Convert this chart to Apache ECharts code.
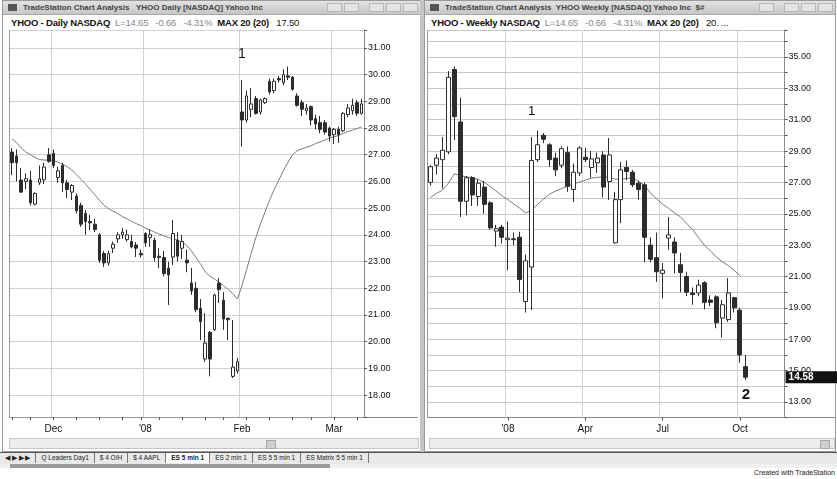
<!DOCTYPE html>
<html>
<head>
<meta charset="utf-8">
<script src="https://cdn.jsdelivr.net/npm/echarts@6/dist/echarts.min.js"></script>
<style>
  html, body { margin: 0; padding: 0; background: #fff; }
  #page { position: relative; width: 837px; height: 479px; overflow: hidden; background: #fff; font-family: 'Liberation Sans', Arial, sans-serif; }
  .win { position: absolute; top: 0; height: 452px; background: #fff; border: 1px solid #9a9a9a; box-sizing: border-box; }
  .tbar { position: absolute; left: 0; right: 0; top: 0; height: 13px; background: linear-gradient(#e2e2e2, #c6c6c6); border-bottom: 1px solid #a8a8a8; font-size: 8px; font-weight: bold; line-height: 13px; color: #444; white-space: nowrap; overflow: hidden; }
  .tbar .ico { display: inline-block; width: 9px; height: 7px; background: #555; margin: 0 6px 0 5px; vertical-align: -1px; }
  .btns { position: absolute; right: 2px; top: 2px; }
  .btns span { display: inline-block; width: 13px; height: 7px; border: 1px solid #b8b8b8; background: #e4e4e4; margin-left: 2px; }
  .hdr { position: absolute; top: 15px; height: 13px; font-size: 9.5px; line-height: 13px; white-space: nowrap; color: #111; letter-spacing: -0.2px; }
  .hdr b { font-weight: bold; }
  .hdr .g { color: #888; }
  .frameL { position: absolute; top: 30px; height: 387px; border-left: 1px solid #9a9a9a; }
  .axisB { position: absolute; top: 417px; height: 0; border-top: 1px solid #8a8a8a; }
  .scroll { position: absolute; top: 437px; height: 11px; background: #ededed; border: 1px solid #c6c6c6; box-sizing: border-box; }
  .thumb { position: absolute; top: 1px; width: 8px; height: 7px; background: #d0d0d0; border: 1px solid #a8a8a8; }
  .sep { position: absolute; left: 420px; top: 0; width: 4px; height: 452px; background: #c4c4c4; }
  .tabs { position: absolute; left: 0; top: 452px; width: 837px; height: 11px; background: #e8e8e8; border-top: 1px solid #555; font-size: 6.5px; line-height: 10px; white-space: nowrap; color: #222; }
  .tabs span { display: inline-block; padding: 0 5px; border-right: 1px solid #777; }
  .tabs span.on { background: #fff; font-weight: bold; }
  .strip { position: absolute; left: 0; top: 464px; width: 837px; height: 4px; background: #f0f0f0; }
  .strip div { position: absolute; left: 10px; top: 0; width: 320px; height: 4px; background: #9a9a9a; }
  .credit { position: absolute; right: 2px; top: 469px; font-size: 7px; color: #222; }
  #chart { position: absolute; left: 0; top: 0; width: 837px; height: 479px; }
</style>
</head>
<body>
<div id="page">
  <div class="win" style="left:2px;width:419px">
    <div class="tbar"><span class="ico"></span>TradeStation Chart Analysis &nbsp; YHOO Daily [NASDAQ] Yahoo Inc
      <div class="btns"><span></span><span></span><span style="margin-left:10px"></span><span></span><span></span></div></div>
    <div class="hdr" style="left:8px"><b>YHOO - Daily NASDAQ</b>&nbsp; <span class="g">L=14.65 &nbsp; -0.66 &nbsp; -4.31%</span>&nbsp; <b>MAX 20 (20)</b> &nbsp; 17.50</div>
    <div class="scroll" style="left:6px;width:410px"><div class="thumb" style="left:256px"></div></div>
  </div>
  <div class="sep"></div>
  <div class="win" style="left:424px;width:412px">
    <div class="tbar"><span class="ico"></span>TradeStation Chart Analysis &nbsp;YHOO Weekly [NASDAQ] Yahoo Inc &nbsp;$#
      <div class="btns"><span></span><span style="margin-left:10px"></span><span></span><span></span></div></div>
    <div class="hdr" style="left:6px"><b>YHOO - Weekly NASDAQ</b>&nbsp; <span class="g">L=14.65 &nbsp; -0.66 &nbsp; -4.31%</span>&nbsp; <b>MAX 20 (20)</b> &nbsp; 20. ...</div>
    <div class="scroll" style="left:4px;width:406px"><div class="thumb" style="left:390px"></div></div>
  </div>
  <div class="frameL" style="left:9px"></div>
  <div class="axisB" style="left:9px;width:409px"></div>
  <div class="frameL" style="left:427px"></div>
  <div class="axisB" style="left:427px;width:408px"></div>
  <div class="tabs"><span>&#9664; &#9654; &#9654; &#9654;</span><span>Q Leaders Day1</span><span>$ 4 OIH</span><span>$ 4 AAPL</span><span class="on">ES 5 min 1</span><span>ES 2 min 1</span><span>ES 5 5 min 1</span><span>ES Matrix 5 5 min 1</span></div>
  <div class="strip"><div></div></div>
  <div class="credit">Created with TradeStation</div>
  <div id="chart"></div>
</div>
<script>
// daily session days, Nov 2007 - Mar 2008
const dailyDays = [
  ['2007-11', [19, 20, 21, 23, 26, 27, 28, 29, 30]],
  ['2007-12', [3, 4, 5, 6, 7, 10, 11, 12, 13, 14, 17, 18, 19, 20, 21, 24, 26, 27, 28, 31]],
  ['2008-01', [2, 3, 4, 7, 8, 9, 10, 11, 14, 15, 16, 17, 18, 22, 23, 24, 25, 28, 29, 30, 31]],
  ['2008-02', [1, 4, 5, 6, 7, 8, 11, 12, 13, 14, 15, 19, 20, 21, 22, 25, 26, 27, 28, 29]],
  ['2008-03', [3, 4, 5, 6, 7, 10, 11]]
]
const dailyTickDates = ['2007-12-03', '2008-01-02', '2008-02-01', '2008-03-03']
const dailyTickLabels = ['Dec', "'08", 'Feb', 'Mar']

// [open, close, low, high]
const dailyCandles = [
  [27.10, 26.70, 26.24, 27.25], [26.95, 26.70, 26.00, 27.20], [26.05, 25.60, 25.57, 26.50], [26.00, 26.10, 25.70, 26.30],
  [26.05, 25.20, 25.10, 26.40], [25.15, 25.55, 25.10, 25.60], [25.95, 26.10, 25.87, 26.60], [26.06, 26.54, 25.90, 26.70],
  [27.00, 26.75, 26.70, 27.25], [27.05, 26.60, 26.50, 27.20], [26.15, 26.40, 25.95, 26.55], [26.60, 25.95, 25.60, 26.70],
  [25.95, 25.70, 25.38, 26.06], [25.60, 25.85, 25.30, 25.90], [25.45, 24.90, 24.80, 25.55], [25.10, 24.40, 24.30, 25.20],
  [24.80, 24.50, 24.00, 24.93], [24.50, 24.45, 24.18, 24.75], [24.40, 24.20, 24.10, 24.60], [24.00, 23.05, 22.95, 24.07],
  [23.30, 22.95, 22.80, 23.40], [22.95, 23.30, 22.85, 23.40], [23.50, 23.65, 23.32, 23.75], [23.85, 24.00, 23.70, 24.10],
  [24.00, 24.10, 23.85, 24.25], [23.82, 24.00, 23.75, 24.20], [23.75, 23.55, 23.50, 24.00], [23.62, 23.50, 23.17, 23.73],
  [23.30, 23.25, 23.15, 23.45], [24.05, 23.70, 23.55, 24.10], [23.90, 24.00, 23.55, 24.20], [23.80, 23.15, 23.00, 23.90],
  [23.20, 23.15, 22.75, 23.50], [23.15, 22.55, 22.45, 23.40], [22.75, 22.50, 21.37, 22.99], [23.17, 24.05, 22.87, 24.56],
  [23.80, 23.20, 23.00, 24.10], [23.50, 23.75, 23.10, 24.00], [23.05, 22.95, 22.60, 23.45], [22.20, 21.90, 21.75, 22.76],
  [22.00, 21.20, 21.10, 22.24], [21.25, 20.75, 20.06, 21.60], [19.35, 19.95, 19.24, 21.07], [20.35, 19.35, 18.70, 20.40],
  [20.45, 21.75, 20.40, 21.80], [22.20, 21.95, 21.45, 22.38], [21.55, 20.85, 20.44, 21.86], [20.88, 20.82, 20.06, 20.90],
  [18.70, 19.05, 18.64, 20.81], [18.90, 19.25, 18.80, 19.40], [28.60, 28.30, 27.30, 29.80], [28.30, 29.20, 28.20, 29.40],
  [28.70, 28.90, 28.40, 29.50], [29.10, 28.55, 28.50, 29.20], [28.60, 29.05, 28.50, 29.10], [28.95, 29.10, 28.90, 29.15],
  [29.75, 29.35, 29.25, 29.85], [29.40, 29.75, 29.30, 29.85], [29.85, 29.80, 29.70, 29.95], [29.70, 30.00, 29.60, 30.20],
  [29.95, 29.90, 29.80, 30.30], [29.90, 29.45, 29.40, 29.95], [29.20, 28.85, 28.80, 29.30], [28.95, 28.70, 28.45, 29.05],
  [28.65, 28.75, 28.50, 28.90], [28.80, 28.30, 28.10, 28.85], [28.35, 28.15, 27.95, 28.50], [28.20, 27.95, 27.80, 28.45],
  [28.20, 27.85, 27.75, 28.30], [28.00, 27.70, 27.50, 28.05], [27.75, 27.95, 27.40, 28.00], [27.95, 27.75, 27.45, 28.05],
  [27.90, 28.55, 27.85, 28.60], [28.50, 28.75, 28.40, 28.90], [28.65, 28.85, 28.50, 29.10], [28.95, 28.55, 28.45, 29.05],
  [28.55, 28.90, 28.50, 29.10]
]
const dailyAvg = [
  27.60, 27.45, 27.25, 27.10, 27.00, 26.90, 26.82, 26.80, 26.80, 26.78, 26.72, 26.65, 26.55, 26.43, 26.25, 26.08,
  25.90, 25.70, 25.50, 25.30, 25.10, 24.98, 24.88, 24.80, 24.68, 24.60, 24.50, 24.42, 24.35, 24.25, 24.18, 24.10,
  24.03, 23.97, 23.90, 23.85, 23.80, 23.72, 23.60, 23.40, 23.15, 22.90, 22.62, 22.45, 22.35, 22.22, 22.10, 21.95,
  21.80, 21.60, 22.10, 22.70, 23.30, 23.90, 24.40, 24.85, 25.30, 25.70, 26.05, 26.40, 26.72, 27.00, 27.15, 27.22,
  27.28, 27.33, 27.42, 27.48, 27.55, 27.62, 27.67, 27.72, 27.80, 27.86, 27.92, 27.98, 28.04
]
const dailyNotes = [['2008-02-01', 30.75, '1']]

// weekly bars, Oct 2007 - Oct 2008, with empty weeks on the right
const weeklyDates = [
  '2007-10-01', '2007-10-08', '2007-10-15', '2007-10-22', '2007-10-29', '2007-11-05', '2007-11-12', '2007-11-19',
  '2007-11-26', '2007-12-03', '2007-12-10', '2007-12-17', '2007-12-24', '2007-12-31', '2008-01-07', '2008-01-14',
  '2008-01-21', '2008-01-28', '2008-02-04', '2008-02-11', '2008-02-18', '2008-02-25', '2008-03-03', '2008-03-10',
  '2008-03-17', '2008-03-24', '2008-03-31', '2008-04-07', '2008-04-14', '2008-04-21', '2008-04-28', '2008-05-05',
  '2008-05-12', '2008-05-19', '2008-05-26', '2008-06-02', '2008-06-09', '2008-06-16', '2008-06-23', '2008-06-30',
  '2008-07-07', '2008-07-14', '2008-07-21', '2008-07-28', '2008-08-04', '2008-08-11', '2008-08-18', '2008-08-25',
  '2008-09-01', '2008-09-08', '2008-09-15', '2008-09-22', '2008-09-29', '2008-10-06', '2008-10-13', '2008-10-20',
  '2008-10-27', '2008-11-03', '2008-11-10', '2008-11-17'
]
const weeklyTickDates = ['2007-12-31', '2008-03-31', '2008-06-30', '2008-09-29']
const weeklyTickLabels = ["'08", 'Apr', 'Jul', 'Oct']

const weeklyCandles = [
  [27.00, 28.00, 26.80, 28.10], [28.10, 28.55, 27.50, 28.80], [28.45, 29.05, 26.60, 29.90], [28.95, 33.70, 28.80, 34.10],
  [34.20, 31.20, 29.70, 34.40], [30.85, 25.80, 24.80, 32.40], [25.80, 27.30, 24.90, 27.40], [27.30, 26.20, 25.50, 27.40],
  [26.10, 26.95, 25.50, 27.20], [26.70, 25.60, 25.00, 27.10], [25.70, 24.10, 24.00, 25.80], [23.90, 24.05, 22.90, 24.30],
  [24.15, 23.50, 23.10, 24.30], [23.35, 23.45, 21.40, 24.50], [23.40, 23.35, 23.00, 23.80], [23.50, 20.80, 20.00, 23.85],
  [19.40, 22.00, 18.70, 22.40], [21.60, 28.40, 18.86, 29.90], [28.45, 29.40, 28.30, 30.30], [30.00, 29.75, 29.50, 30.15],
  [29.40, 28.45, 28.00, 29.50], [28.55, 27.80, 27.40, 28.90], [28.10, 29.15, 27.90, 29.30], [28.90, 26.75, 26.40, 29.30],
  [26.55, 27.65, 25.75, 28.20], [27.60, 29.20, 27.40, 29.30], [28.60, 28.45, 28.30, 29.20], [27.95, 28.50, 27.30, 29.00],
  [28.25, 28.55, 27.60, 28.90], [28.75, 26.70, 26.05, 29.00], [27.05, 28.75, 25.88, 29.83], [23.15, 25.90, 23.10, 26.40],
  [25.90, 27.80, 24.40, 28.30], [27.95, 27.70, 27.15, 28.40], [27.65, 26.85, 26.70, 27.80], [26.95, 26.55, 25.90, 27.10],
  [26.85, 23.50, 21.90, 27.00], [23.00, 22.10, 21.90, 23.50], [22.20, 21.30, 20.65, 23.80], [21.20, 21.40, 19.60, 21.86],
  [23.45, 23.65, 22.70, 24.80], [23.20, 22.50, 21.20, 23.50], [21.75, 21.25, 20.00, 22.50], [21.00, 20.00, 19.75, 21.30],
  [19.95, 19.85, 19.20, 20.30], [19.95, 20.45, 19.75, 20.80], [20.60, 19.35, 18.90, 20.70], [19.50, 19.35, 19.10, 19.80],
  [19.70, 18.05, 17.70, 19.80], [18.35, 19.20, 17.10, 19.50], [18.25, 19.95, 18.10, 20.90], [19.65, 19.00, 18.70, 19.70],
  [18.85, 16.00, 15.50, 19.00], [15.25, 14.58, 14.40, 16.00]
]
const weeklyAvg = [
  26.05, 26.30, 26.50, 26.95, 27.55, 27.45, 27.35, 27.30, 27.20, 27.00, 26.75, 26.45, 26.15, 25.90, 25.62, 25.35,
  25.05, 25.25, 25.60, 25.95, 26.25, 26.45, 26.60, 26.75, 26.90, 27.02, 27.15, 27.27, 27.32, 27.35, 27.35, 27.20,
  27.20, 27.25, 27.30, 27.05, 26.80, 26.30, 25.95, 25.60, 25.35, 25.05, 24.80, 24.40, 24.00, 23.50, 23.00, 22.65,
  22.25, 21.95, 21.70, 21.40, 21.05
]
const weeklyNotes = [['2008-01-28', 31.5, '1', 13, 'normal'], ['2008-10-06', 13.45, '2', 15, 'bold']]
const lastPrice = 14.58

const dailyDates = []
dailyDays.forEach(([month, days]) => {
  days.forEach((d) => dailyDates.push(month + '-' + String(d).padStart(2, '0')))
})

// first session of each week gets a tick on the daily axis
const isWeekStart = (idx) => {
  if (idx === 0) return true
  const a = new Date(dailyDates[idx - 1] + 'T00:00:00Z').getUTCDay()
  const b = new Date(dailyDates[idx] + 'T00:00:00Z').getUTCDay()
  return b < a
}

const priceLabel = (step) => (v) => {
  const r = Math.round(v * 100) / 100
  if (!Number.isInteger(r)) return ''
  if (step === 2 && r % 2 === 0) return ''
  return r.toFixed(2)
}

const candleStyle = {
  color: '#ffffff',
  color0: '#2c2c2c',
  borderColor: '#2c2c2c',
  borderColor0: '#2c2c2c',
  borderWidth: 1
}

const noteLabel = (size, weight) => ({
  show: true,
  position: 'inside',
  color: '#111',
  fontSize: size,
  fontWeight: weight,
  fontFamily: 'Liberation Sans'
})

const xAxisFor = (gridIndex, dates, tickDates, tickLabels, tickFn) => ({
  type: 'category',
  gridIndex,
  data: dates,
  boundaryGap: true,
  axisLine: { show: false },
  axisTick: {
    show: true,
    alignWithLabel: true,
    length: 3,
    interval: tickFn,
    lineStyle: { color: '#555' }
  },
  axisLabel: {
    interval: (idx, val) => tickDates.includes(val),
    formatter: (val) => tickLabels[tickDates.indexOf(val)] || '',
    color: '#111',
    fontSize: 10,
    fontFamily: 'Liberation Sans',
    margin: 7
  },
  splitLine: {
    show: true,
    interval: (idx, val) => tickDates.includes(val),
    lineStyle: { color: '#d2d2d2', width: 1 }
  }
})

const yAxisFor = (gridIndex, opts, step, gridColor) => Object.assign({
  type: 'value',
  gridIndex,
  position: 'right',
  scale: true,
  axisLine: { show: true, lineStyle: { color: '#8a8a8a' } },
  axisTick: { show: true, length: 3, lineStyle: { color: '#555' } },
  axisLabel: {
    formatter: priceLabel(step),
    color: '#111',
    fontSize: 9,
    fontFamily: 'Liberation Sans',
    margin: 4
  },
  splitLine: { show: true, lineStyle: { color: gridColor, type: 'dotted' } }
}, opts)

const chart = echarts.init(document.getElementById('chart'))

chart.setOption({
  animation: false,
  backgroundColor: 'transparent',
  grid: [
    { left: 9.7, top: 30, width: 354.2, height: 387 },
    { left: 427.6, top: 30, width: 357, height: 387.6 }
  ],
  xAxis: [
    xAxisFor(0, dailyDates, dailyTickDates, dailyTickLabels, (idx) => isWeekStart(idx)),
    xAxisFor(1, weeklyDates, weeklyTickDates, weeklyTickLabels, (idx, val) => weeklyTickDates.includes(val))
  ],
  yAxis: [
    yAxisFor(0, { min: 17.18, max: 31.67, splitNumber: 14 }, 1, '#a4a4a4'),
    yAxisFor(1, { min: 12, max: 36.72, interval: 1 }, 2, '#8e8e8e')
  ],
  series: [
    {
      name: 'YHOO Daily',
      type: 'candlestick',
      xAxisIndex: 0,
      yAxisIndex: 0,
      data: dailyCandles,
      barWidth: 3,
      itemStyle: candleStyle,
      markPoint: {
        symbol: 'circle',
        symbolSize: 0,
        data: dailyNotes.map(([d, v, t]) => ({ coord: [d, v], value: t, label: Object.assign(noteLabel(14, 'normal'), { formatter: t }) }))
      }
    },
    {
      name: 'MAV 20',
      type: 'line',
      xAxisIndex: 0,
      yAxisIndex: 0,
      data: dailyAvg,
      symbol: 'none',
      lineStyle: { color: '#7a7a7a', width: 1 },
      z: 1
    },
    {
      name: 'YHOO Weekly',
      type: 'candlestick',
      xAxisIndex: 1,
      yAxisIndex: 1,
      data: weeklyCandles,
      barWidth: 4.5,
      itemStyle: candleStyle,
      markPoint: {
        symbol: 'circle',
        symbolSize: 0,
        data: weeklyNotes.map(([d, v, t, s, w]) => ({ coord: [d, v], value: t, label: Object.assign(noteLabel(s, w), { formatter: t }) }))
      },
      markLine: {
        silent: true,
        symbol: ['none', 'none'],
        lineStyle: { color: 'rgba(0,0,0,0)', width: 1, type: 'solid' },
        data: [{ yAxis: lastPrice }],
        label: {
          show: true,
          position: 'end',
          distance: 1,
          formatter: lastPrice.toFixed(2),
          backgroundColor: '#111',
          color: '#fff',
          fontSize: 10,
          fontWeight: 'bold',
          fontFamily: 'Liberation Sans',
          width: 46,
          align: 'left',
          padding: [1, 3, 1, 3]
        }
      }
    },
    {
      name: 'MAV 20 weekly',
      type: 'line',
      xAxisIndex: 1,
      yAxisIndex: 1,
      data: weeklyAvg,
      symbol: 'none',
      lineStyle: { color: '#7a7a7a', width: 1 },
      z: 1
    }
  ]
})

window.addEventListener('resize', () => chart.resize())
</script>
</body>
</html>
